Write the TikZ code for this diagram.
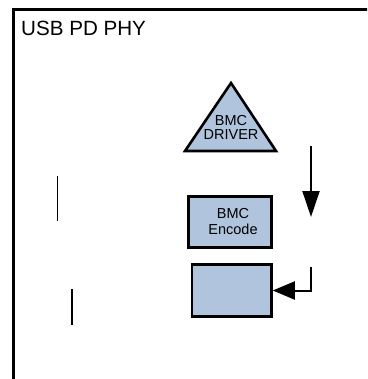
\documentclass[tikz,border=0pt]{standalone}
\usepackage{fontspec}
\setmainfont{Liberation Sans}
\usetikzlibrary{arrows.meta}
\definecolor{blockfill}{RGB}{176,196,222}
\tikzset{
  block/.style={draw=black, line width=2.6pt, fill=blockfill, inner sep=0pt},
  blocktext/.style={inner sep=0pt, align=center, font=\fontsize{14.5}{14}\selectfont},
  flow/.style={line width=2pt, -{Triangle[length=26pt,width=17pt]}},
  feed/.style={line width=2pt, -{Triangle[length=22pt,width=18pt]}},
  wire/.style={line width=1.6pt}
}
\begin{document}
\begin{tikzpicture}[x=1pt,y=-1pt]
  \useasboundingbox (0,0) rectangle (367,379);
  \clip (0,0) rectangle (367,379);
  \fill[white] (0,0) rectangle (367,379);

  % PHY enclosure (only the top and left edges fall inside the page)
  \draw[line width=2.6pt] (13.5,400) -- (13.5,9.5) -- (400,9.5);
  \node[anchor=base west, inner sep=0pt, font=\fontsize{20.6}{24}\selectfont] (title) at (21,36) {USB PD PHY};

  % BMC driver triangle
  \coordinate (drvL) at (185,151);
  \coordinate (drvR) at (276,151);
  \coordinate (drvT) at (231,83);
  \filldraw[fill=blockfill, draw=black, line width=2.6pt, line join=miter] (drvL) -- (drvR) -- (drvT) -- cycle;
  \node[blocktext] (drv) at (231,127) {BMC\\DRIVER};

  % encoder and the block below it
  \node[block, minimum width=83pt, minimum height=51.5pt] (enc) at (230,222) {};
  \node[blocktext, font=\fontsize{14.5}{16}\selectfont] (enctext) at (233,221.3) {BMC\\Encode};
  \node[block, minimum width=79.5pt, minimum height=52pt] (low) at (231.7,290.5) {};

  % signal arrows on the right
  \coordinate (downA) at (311,146);
  \coordinate (downB) at (311,217);
  \draw[flow] (downA) -- (downB);
  \coordinate (feedA) at (311,267);
  \draw[feed] (feedA) |- (low.east);

  % short vertical wires on the left
  \coordinate (w1a) at (57.3,176);
  \coordinate (w1b) at (57.3,221);
  \coordinate (w2a) at (71.7,289);
  \coordinate (w2b) at (71.7,325);
  \draw[wire] (w1a) -- (w1b);
  \draw[wire] (w2a) -- (w2b);
\end{tikzpicture}
\end{document}
